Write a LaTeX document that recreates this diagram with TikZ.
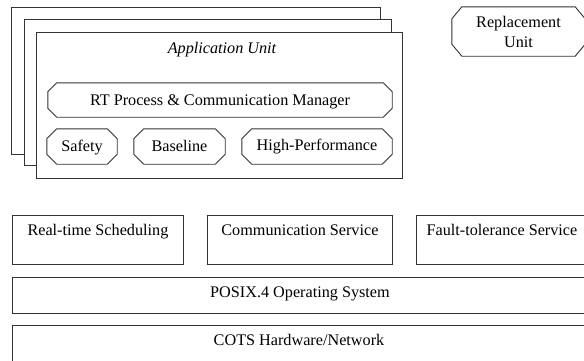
\documentclass[tikz,border=0pt]{standalone}
\usepackage{fontspec}
\setmainfont{Liberation Serif}
\tikzset{
  ln/.style={draw=black!80, line width=0.9pt},
  panel/.style={ln, fill=white, inner sep=0pt, anchor=north west},
  txt/.style={font=\fontsize{16.2}{20}\selectfont, inner sep=0pt},
  caps/.style={text height=10.7pt, text depth=0pt},
  octo/.style={txt, caps},
}
% chamfered outline drawn around an (undrawn) node
\newcommand\octagonframe[3]{%
  \draw[ln, fill=white] ([xshift=#2]#1.north west) -- ([xshift=-#2]#1.north east)
    -- ([yshift=-#3]#1.north east) -- ([yshift=#3]#1.south east)
    -- ([xshift=-#2]#1.south east) -- ([xshift=#2]#1.south west)
    -- ([yshift=#3]#1.south west) -- ([yshift=-#3]#1.north west) -- cycle;}
\begin{document}
\begin{tikzpicture}[x=1pt, y=-1pt]
  \useasboundingbox (0,0) rectangle (584,360);
  \clip (0,0) rectangle (584,360);

  % stacked application units
  \node[panel, minimum width=369pt, minimum height=147pt] (back1) at (11,7) {};
  \node[panel, minimum width=367pt, minimum height=146pt] (back2) at (24,19) {};
  \node[panel, minimum width=366pt, minimum height=146pt] (unit) at (36,32) {};
  \node[txt, caps, font=\fontsize{16.2}{20}\selectfont\itshape] (unitT) at (222,48) {Application Unit};

  % components inside the unit
  \node[octo, minimum width=344pt, minimum height=34pt] (rtpm) at (220,100) {};
  \octagonframe{rtpm}{9pt}{9pt}
  \node[octo] at (rtpm.center) {RT Process \& Communication Manager};

  \node[octo, minimum width=70pt, minimum height=35pt] (safety) at (82,146.5) {};
  \octagonframe{safety}{10pt}{10pt}
  \node[octo] at (safety.center) {Safety};

  \node[octo, minimum width=91pt, minimum height=35pt] (baseline) at (179.5,146.5) {};
  \octagonframe{baseline}{10pt}{10pt}
  \node[octo] at (baseline.center) {Baseline};

  \node[octo, minimum width=150pt, minimum height=35pt] (hiperf) at (317,146.5) {};
  \octagonframe{hiperf}{10pt}{10pt}
  \node[octo] at ([yshift=1.5pt]hiperf.center) {High-Performance};

  % replacement unit
  \node[txt, minimum width=133pt, minimum height=49pt] (repl) at (518.5,31.5) {};
  \octagonframe{repl}{10pt}{12pt}
  \node[txt, align=center] at (repl.center) {Replacement\\Unit};

  % service layer
  \node[panel, minimum width=171pt, minimum height=49pt] (rts) at (12,215) {};
  \node[txt, caps] at ([yshift=-15pt]rts.north) {Real-time Scheduling};
  \node[panel, minimum width=185pt, minimum height=49pt] (comm) at (207,215) {};
  \node[txt, caps] at ([yshift=-15pt]comm.north) {Communication Service};
  \node[panel, minimum width=190pt, minimum height=49pt] (ft) at (416,215) {};
  \node[txt, caps] at (502,230) {Fault-tolerance Service};

  % operating system and hardware
  \node[panel, minimum width=600pt, minimum height=36pt] (posix) at (12,277) {};
  \node[txt, caps] at (300,292) {POSIX.4 Operating System};
  \node[panel, minimum width=600pt, minimum height=55pt] (cots) at (12,325) {};
  \node[txt, caps] at (299,340) {COTS Hardware/Network};
\end{tikzpicture}
\end{document}
